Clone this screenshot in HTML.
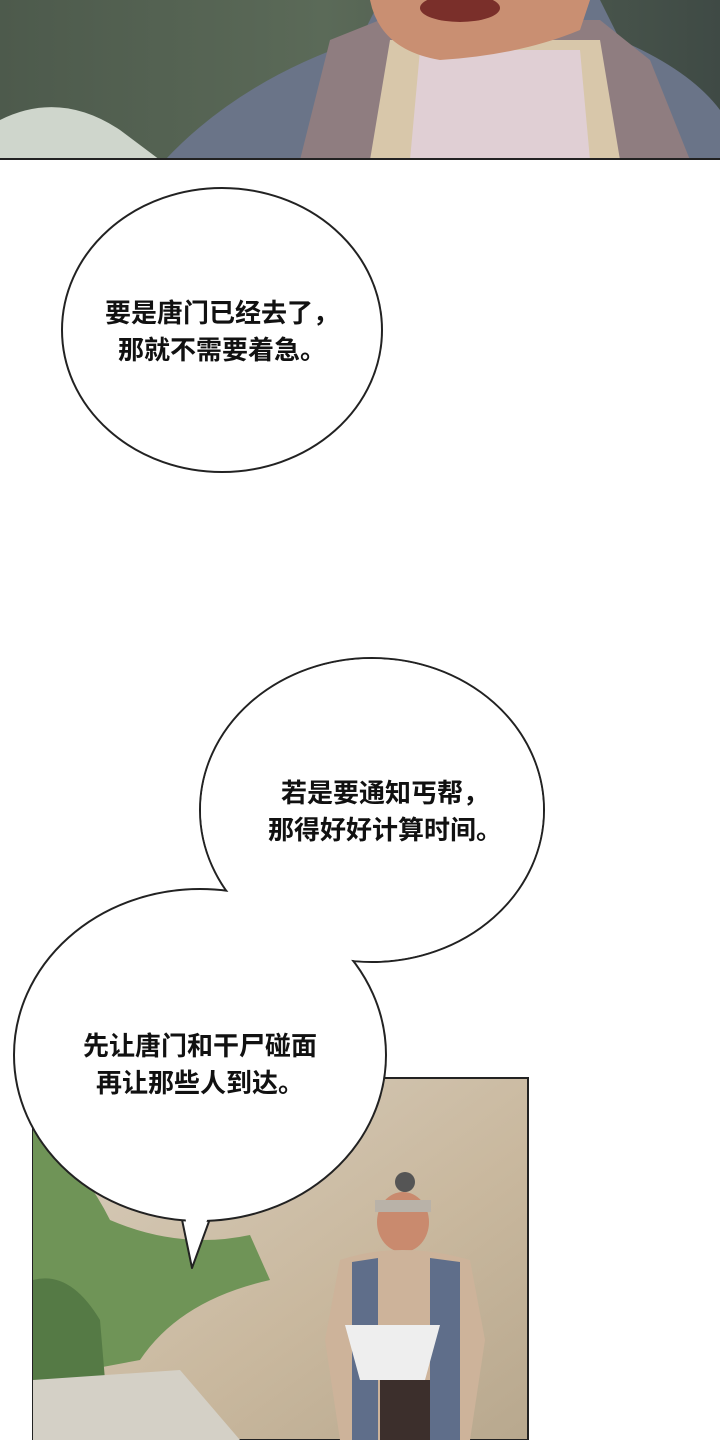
<!DOCTYPE html>
<html><head><meta charset="utf-8"><style>
body{margin:0;width:720px;height:1440px;background:#fff;position:relative;overflow:hidden;font-family:"Liberation Sans","Noto Sans CJK SC",sans-serif;}
.t{position:absolute;font-size:26px;color:#111;text-align:center;line-height:37px;font-weight:bold;}
</style></head><body>
<svg width="720" height="1440" style="position:absolute;left:0;top:0">
<defs>
<linearGradient id="g1" x1="0" y1="0" x2="1" y2="0"><stop offset="0" stop-color="#4d5a4c"/><stop offset="0.45" stop-color="#5b6a58"/><stop offset="1" stop-color="#3f4a45"/></linearGradient>
<linearGradient id="g2" x1="0" y1="0" x2="1" y2="1"><stop offset="0" stop-color="#d9cfbf"/><stop offset="0.6" stop-color="#c9b89e"/><stop offset="1" stop-color="#b8a88e"/></linearGradient>
</defs>
<rect x="0" y="0" width="720" height="160" fill="url(#g1)"/>
<path d="M0 120 Q60 90 120 130 L160 160 L0 160Z" fill="#cfd6cc"/>
<path d="M165 160 Q240 80 360 40 L380 0 L600 0 L620 40 Q690 70 720 110 L720 160Z" fill="#6a7488"/>
<path d="M300 160 L330 40 L380 20 L600 20 L650 60 L690 160Z" fill="#8f7d80"/>
<path d="M370 160 L390 40 L600 40 L620 160Z" fill="#d8c7aa"/>
<path d="M410 160 L420 50 L580 50 L590 160Z" fill="#e0cfd4"/>
<path d="M370 0 Q380 50 440 60 Q520 55 580 30 L590 0Z" fill="#c98f72"/>
<ellipse cx="460" cy="8" rx="40" ry="14" fill="#7a2f2a"/>
<line x1="0" y1="159" x2="720" y2="159" stroke="#222" stroke-width="2"/>
<rect x="33" y="1078" width="495" height="362" fill="url(#g2)" stroke="#222" stroke-width="2"/>
<path d="M33 1130 Q80 1160 110 1220 Q180 1250 250 1235 L270 1280 Q180 1300 140 1360 L33 1380Z" fill="#6f9457"/>
<path d="M33 1280 Q70 1270 100 1320 L110 1440 L33 1440Z" fill="#557a45"/>
<path d="M33 1380 L180 1370 L240 1440 L33 1440Z" fill="#d4d0c6"/>
<ellipse cx="403" cy="1222" rx="26" ry="30" fill="#c98a6e"/>
<rect x="375" y="1200" width="56" height="12" fill="#b9b2a8"/>
<circle cx="405" cy="1182" r="10" fill="#555"/>
<path d="M340 1260 Q400 1240 470 1260 L485 1340 L470 1440 L340 1440 L325 1340Z" fill="#cdb39a"/>
<path d="M352 1262 L378 1258 L378 1440 L352 1440Z" fill="#5f6e8a"/>
<path d="M430 1258 L460 1262 L460 1440 L430 1440Z" fill="#5f6e8a"/>
<path d="M345 1325 L440 1325 L425 1380 L360 1380Z" fill="#eeeeee"/>
<rect x="380" y="1380" width="50" height="60" fill="#3c2f2c"/>
<ellipse cx="222" cy="330" rx="160" ry="142" fill="#fff" stroke="#222" stroke-width="2"/>
<!-- merged bubbles: strokes first, then fills -->
<ellipse cx="372" cy="810" rx="172" ry="152" fill="#fff" stroke="#222" stroke-width="2"/>
<path d="M180 1210 L192 1268 L215 1205Z" fill="#fff" stroke="#222" stroke-width="2" stroke-linejoin="round"/>
<ellipse cx="200" cy="1055" rx="186" ry="166" fill="#fff" stroke="#222" stroke-width="2"/>
<ellipse cx="372" cy="810" rx="171" ry="151" fill="#fff"/>
<path d="M185 1215 L192 1262 L210 1212Z" fill="#fff"/>
</svg>
<div class="t" style="left:62px;top:295px;width:320px">要是唐门已经去了，<br>那就不需要着急。</div>
<div class="t" style="left:225px;top:775px;width:320px">若是要通知丐帮，<br>那得好好计算时间。</div>
<div class="t" style="left:40px;top:1028px;width:320px">先让唐门和干尸碰面<br>再让那些人到达。</div>
</body></html>
